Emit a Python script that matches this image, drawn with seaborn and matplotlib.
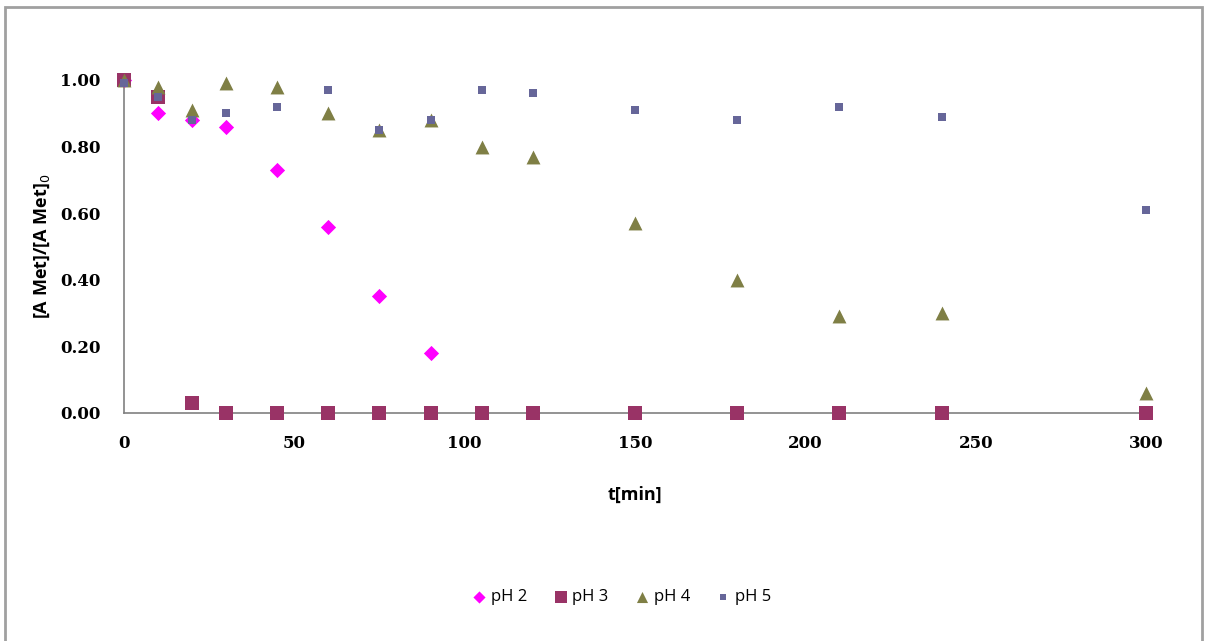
import numpy as np
import pandas as pd
import matplotlib
matplotlib.use("Agg")
import matplotlib.pyplot as plt
import seaborn as sns
from matplotlib.patches import Rectangle

# sampling times [min]
t_all = [0, 10, 20, 30, 45, 60, 75, 90, 105, 120, 150, 180, 210, 240, 300]

# [A Met]/[A Met]0 per pH
ph2 = [1.00, 0.90, 0.88, 0.86, 0.73, 0.56, 0.35, 0.18]
ph3 = [1.00, 0.95, 0.03, 0.00, 0.00, 0.00, 0.00, 0.00, 0.00, 0.00, 0.00, 0.00, 0.00, 0.00, 0.00]
ph4 = [1.00, 0.98, 0.91, 0.99, 0.98, 0.90, 0.85, 0.88, 0.80, 0.77, 0.57, 0.40, 0.29, 0.30, 0.06]
ph5 = [0.99, 0.95, 0.88, 0.90, 0.92, 0.97, 0.85, 0.88, 0.97, 0.96, 0.91, 0.88, 0.92, 0.89, 0.61]

series = {"pH 2": ph2, "pH 3": ph3, "pH 4": ph4, "pH 5": ph5}
frames = []
for name, vals in series.items():
    frames.append(pd.DataFrame({"t": t_all[:len(vals)], "ratio": vals, "series": name}))
df = pd.concat(frames, ignore_index=True)

palette = {"pH 2": "#FF00FF", "pH 3": "#993366", "pH 4": "#7F7F45", "pH 5": "#666699"}
markers = {"pH 2": "D", "pH 3": "s", "pH 4": "^", "pH 5": "s"}
sizes = {"pH 2": 60, "pH 3": 110, "pH 4": 100, "pH 5": 28}

sns.set_style("white")
fig = plt.figure(figsize=(12.06, 6.41), dpi=100)
ax = fig.add_axes([0.1028, 0.3557, 0.8475, 0.5195])

# draw series in the same order as the legend (later ones on top)
for name in ["pH 2", "pH 3", "pH 4", "pH 5"]:
    sub = df[df["series"] == name]
    sns.scatterplot(data=sub, x="t", y="ratio", ax=ax, color=palette[name],
                    marker=markers[name], s=sizes[name], linewidth=0,
                    label=name, clip_on=False, zorder=3)

ax.set_xlim(0, 300)
ax.set_ylim(0, 1.0)
ax.set_xticks([0, 50, 100, 150, 200, 250, 300])
ax.set_yticks([0, 0.2, 0.4, 0.6, 0.8, 1.0])
ax.set_yticklabels([f"{v:.2f}" for v in [0, 0.2, 0.4, 0.6, 0.8, 1.0]])
for lab in ax.get_xticklabels() + ax.get_yticklabels():
    lab.set_fontfamily("DejaVu Serif")
    lab.set_fontsize(12)
    lab.set_fontweight("bold")
    lab.set_color("black")
ax.tick_params(axis="x", length=0, pad=16)
ax.tick_params(axis="y", length=0, pad=17)

for side in ["top", "right"]:
    ax.spines[side].set_visible(False)
for side in ["left", "bottom"]:
    ax.spines[side].set_color("#808080")
    ax.spines[side].set_linewidth(1.2)

ax.set_xlabel("t[min]", fontsize=13, fontweight="bold", fontfamily="Open Sans",
              labelpad=24, color="black")
ax.set_ylabel("[A Met]/[A Met]$_0$", fontsize=13, fontweight="bold", fontfamily="Open Sans",
              labelpad=6, color="black")

handles, labels = ax.get_legend_handles_labels()
ax.get_legend().remove()
fig.legend(handles, labels, loc="center", bbox_to_anchor=(0.515, 0.068), ncol=4,
           frameon=False, handletextpad=0.2, handlelength=1.0, columnspacing=1.5,
           markerscale=0.8, prop={"family": "Open Sans", "size": 12}, labelcolor="black")

# outer chart border like the spreadsheet frame
fig.patches.append(Rectangle((5 / 1206, -0.05), 1197 / 1206, 1.05 - 7 / 641,
                             transform=fig.transFigure, fill=False,
                             edgecolor="#A0A0A0", linewidth=2.0))

fig.savefig("out.png", dpi=100)
